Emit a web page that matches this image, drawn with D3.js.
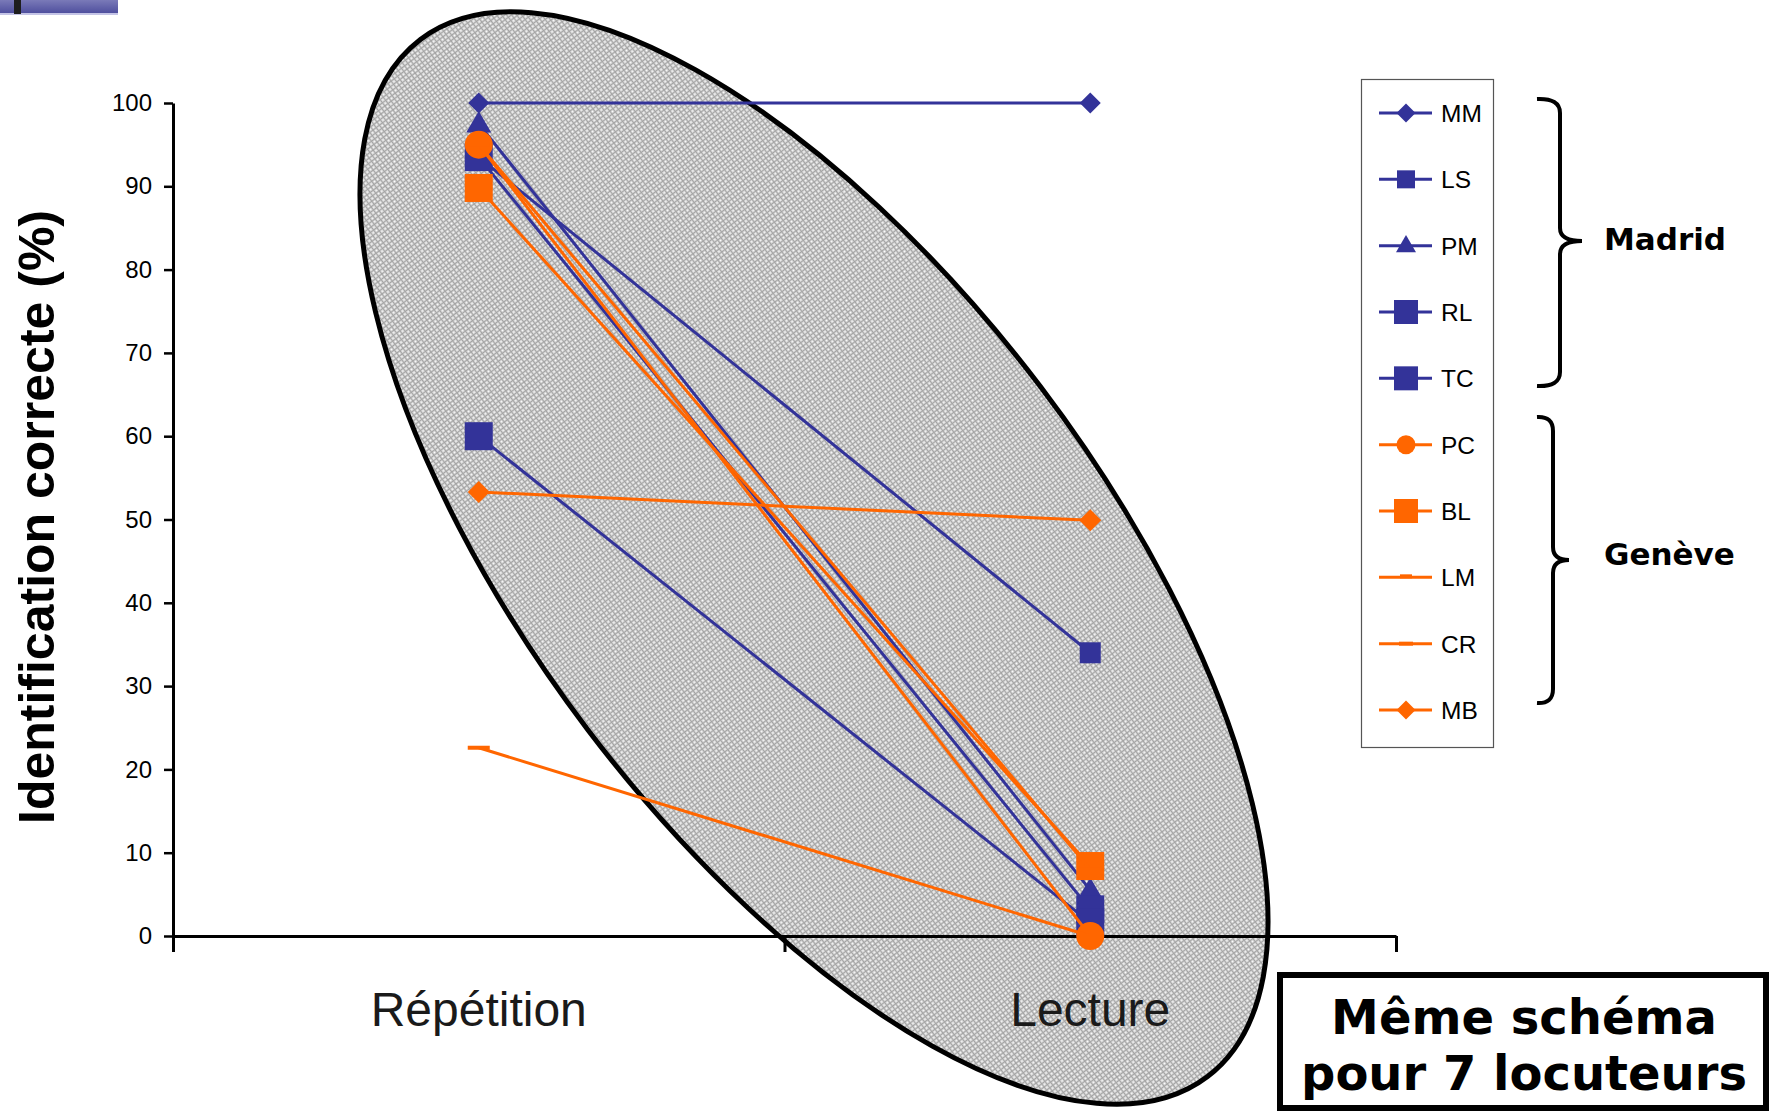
<!DOCTYPE html>
<html>
<head>
<meta charset="utf-8">
<script src="https://cdn.jsdelivr.net/npm/d3@7"></script>
<style>
  html, body { margin: 0; padding: 0; background: #fff; }
  svg { display: block; }
</style>
</head>
<body>
<svg id="chart" width="1771" height="1111"></svg>
<script>
// Task conditions and speakers
const categories = ["Répétition", "Lecture"];
const speakers = ["MM", "LS", "PM", "RL", "TC", "PC", "BL", "LM", "CR", "MB"];
const speakerCity = ["Madrid", "Madrid", "Madrid", "Madrid", "Madrid",
                     "Genève", "Genève", "Genève", "Genève", "Genève"];
// Correct identification (%) per speaker
const repetition = [100, 93.5, 97.5, 93.5, 60, 95, 89.8, 22.6, 95, 53.3];
const lecture    = [100, 34, 5.5, 3.2, 1.6, 0, 8.4, 0, 8, 49.9];
const yTicks = [0, 10, 20, 30, 40, 50, 60, 70, 80, 90, 100];
const cities = ["Madrid", "Genève"];
const yTitle = "Identification correcte  (%)";
const noteLines = ["Même schéma", "pour 7 locuteurs"];

// Marker look per speaker
const markerStyle = {
  MM: { shape: "diamond", size: 21, legend: 19 },
  LS: { shape: "square", size: 21, legend: 18 },
  PM: { shape: "triangle", size: 25, legend: 20 },
  RL: { shape: "square", size: 28, legend: 24 },
  TC: { shape: "square", size: 28, legend: 24 },
  PC: { shape: "circle", size: 28, legend: 19 },
  BL: { shape: "square", size: 28, legend: 24 },
  LM: { shape: "dash", size: 22, legend: 12 },
  CR: { shape: "dash", size: 22, legend: 14 },
  MB: { shape: "diamond", size: 22, legend: 19 }
};
const cityColor = { "Madrid": "#333399", "Genève": "#ff6600" };

const svg = d3.select("#chart");
const defs = svg.append("defs");
const pat = defs.append("pattern").attr("id", "mesh")
  .attr("width", 4).attr("height", 4).attr("patternUnits", "userSpaceOnUse");
pat.append("rect").attr("width", 4).attr("height", 4).attr("fill", "#d8d8d8");
pat.append("rect").attr("width", 1).attr("height", 4).attr("fill", "#a4a4a4");
pat.append("rect").attr("width", 4).attr("height", 1).attr("fill", "#a4a4a4");
pat.append("rect").attr("x", 2).attr("y", 2).attr("width", 1).attr("height", 1).attr("fill", "#ffffff");

const grad = defs.append("linearGradient").attr("id", "barGrad")
  .attr("x1", 0).attr("y1", 0).attr("x2", 0).attr("y2", 1);
grad.append("stop").attr("offset", 0).attr("stop-color", "#7a7ab8");
grad.append("stop").attr("offset", 1).attr("stop-color", "#4c4c9c");

// Slide header strip
svg.append("rect").attr("x", 0).attr("y", 0).attr("width", 118).attr("height", 14).attr("fill", "url(#barGrad)");
svg.append("rect").attr("x", 0).attr("y", 13).attr("width", 118).attr("height", 2).attr("fill", "#c4c4e6");
svg.append("rect").attr("x", 14).attr("y", 0).attr("width", 7).attr("height", 14).attr("fill", "#1e1e1e");

// Scales
const plotLeft = 173, plotRight = 1396, plotTop = 103, plotBottom = 936;
const x = d3.scaleBand().domain(categories).range([plotLeft, plotRight]).padding(0);
const cx = c => x(c) + x.bandwidth() / 2;
const y = d3.scaleLinear().domain([0, 100]).range([plotBottom, plotTop]);

// Highlight ellipse around the common pattern
svg.append("ellipse")
  .attr("cx", 0).attr("cy", 0).attr("rx", 651).attr("ry", 284)
  .attr("transform", "translate(814,558) rotate(52.8)")
  .attr("fill", "url(#mesh)").attr("stroke", "#000").attr("stroke-width", 5);

const font = "'Liberation Sans', Arial, Helvetica, sans-serif";

// Y axis
const yAxis = svg.append("g").attr("transform", `translate(${plotLeft},0)`)
  .call(d3.axisLeft(y).tickValues(yTicks).tickSize(9).tickSizeOuter(0).tickPadding(12));
yAxis.select(".domain").attr("stroke", "#000").attr("stroke-width", 3);
yAxis.selectAll(".tick line").attr("stroke", "#000").attr("stroke-width", 2.5);
yAxis.selectAll(".tick text").attr("font-family", font).attr("font-size", 24).attr("fill", "#000");

// X axis with ticks between categories
const xEdges = d3.scaleLinear().domain([0, categories.length]).range([plotLeft, plotRight]);
const xAxis = svg.append("g").attr("transform", `translate(0,${plotBottom})`)
  .call(d3.axisBottom(xEdges).tickValues(d3.range(categories.length + 1)).tickSize(16).tickSizeOuter(0).tickFormat(""));
xAxis.select(".domain").attr("stroke", "#000").attr("stroke-width", 3);
xAxis.selectAll(".tick line").attr("stroke", "#000").attr("stroke-width", 3);

svg.append("g").selectAll("text").data(categories).join("text")
  .attr("x", d => cx(d)).attr("y", 1026)
  .attr("text-anchor", "middle")
  .attr("font-family", font).attr("font-size", 48).attr("fill", "#1a1a1a")
  .text(d => d);

// Y axis title
svg.append("text")
  .attr("transform", "translate(54,517) rotate(-90)")
  .attr("text-anchor", "middle")
  .attr("font-family", font).attr("font-weight", "bold").attr("font-size", 50).attr("fill", "#000")
  .text(yTitle);

// Marker drawing
function drawMarker(g, shape, s, color) {
  const h = s / 2;
  if (shape === "diamond") {
    g.append("path").attr("d", `M0,${-h}L${h},0L0,${h}L${-h},0Z`).attr("fill", color);
  } else if (shape === "square") {
    g.append("rect").attr("x", -h).attr("y", -h).attr("width", s).attr("height", s).attr("fill", color);
  } else if (shape === "triangle") {
    const th = s * 0.86;
    g.append("path").attr("d", `M0,${-th / 2 - 2}L${h},${th / 2 - 2}L${-h},${th / 2 - 2}Z`).attr("fill", color);
  } else if (shape === "circle") {
    g.append("circle").attr("r", h).attr("fill", color);
  } else if (shape === "dash") {
    g.append("rect").attr("x", -h).attr("y", -2).attr("width", s).attr("height", 4).attr("fill", color);
  }
}

const series = speakers.map((name, i) => ({
  name, city: speakerCity[i],
  values: [repetition[i], lecture[i]]
}));

const line = d3.line().x(d => cx(d.cat)).y(d => y(d.v));

const seriesG = svg.append("g");
series.forEach(s => {
  const pts = categories.map((c, j) => ({ cat: c, v: s.values[j] }));
  const color = cityColor[s.city];
  const g = seriesG.append("g");
  g.append("path").datum(pts).attr("d", line)
    .attr("fill", "none").attr("stroke", color).attr("stroke-width", 3);
  const st = markerStyle[s.name];
  pts.forEach(p => {
    const mg = g.append("g").attr("transform", `translate(${cx(p.cat)},${y(p.v)})`);
    drawMarker(mg, st.shape, st.size, color);
  });
});

// Legend
const legX = 1361, legY = 79, legW = 132, legH = 668;
svg.append("rect").attr("x", legX + 0.5).attr("y", legY + 0.5).attr("width", legW).attr("height", legH)
  .attr("fill", "#fff").attr("stroke", "#555").attr("stroke-width", 1.2);
const legRow = d3.scaleLinear().domain([0, speakers.length - 1]).range([113, 710]);
series.forEach((s, i) => {
  const yy = legRow(i);
  const color = cityColor[s.city];
  const g = svg.append("g");
  g.append("line").attr("x1", 1379).attr("x2", 1432).attr("y1", yy).attr("y2", yy)
    .attr("stroke", color).attr("stroke-width", 3);
  const st = markerStyle[s.name];
  const mg = g.append("g").attr("transform", `translate(1406,${s.name === "LM" ? yy - 1 : yy})`);
  drawMarker(mg, st.shape, st.legend, color);
  g.append("text").attr("x", 1441).attr("y", yy + 9)
    .attr("font-family", font).attr("font-size", 24.5).attr("fill", "#000")
    .text(s.name);
});

// Group braces
const braces = [
  { x0: 1537, xv: 1560, xt: 1582, top: 99, tip: 241, bottom: 386, labelY: 250 },
  { x0: 1537, xv: 1553, xt: 1569, top: 417, tip: 560, bottom: 703, labelY: 565 }
];
braces.forEach((b, i) => {
  const p = d3.path();
  p.moveTo(b.x0, b.top);
  p.quadraticCurveTo(b.xv, b.top - 1, b.xv, b.top + 14);
  p.lineTo(b.xv, b.tip - 13);
  p.quadraticCurveTo(b.xv, b.tip, b.xt, b.tip);
  p.quadraticCurveTo(b.xv, b.tip, b.xv, b.tip + 13);
  p.lineTo(b.xv, b.bottom - 14);
  p.quadraticCurveTo(b.xv, b.bottom + 1, b.x0, b.bottom);
  svg.append("path").attr("d", p.toString()).attr("fill", "none")
    .attr("stroke", "#000").attr("stroke-width", 4);
  svg.append("text").attr("x", 1604).attr("y", b.labelY)
    .attr("font-family", "'DejaVu Sans', Verdana, sans-serif").attr("font-weight", "bold")
    .attr("font-size", 31).attr("fill", "#000")
    .text(cities[i]);
});

// Note box
svg.append("rect").attr("x", 1280).attr("y", 975).attr("width", 486).attr("height", 133)
  .attr("fill", "#fff").attr("stroke", "#000").attr("stroke-width", 6);
svg.append("g").selectAll("text").data(noteLines).join("text")
  .attr("x", 1524).attr("y", (d, i) => 1034 + i * 56)
  .attr("text-anchor", "middle")
  .attr("font-family", "'DejaVu Sans', Verdana, sans-serif").attr("font-weight", "bold")
  .attr("font-size", 48).attr("fill", "#000")
  .text(d => d);
</script>
</body>
</html>
